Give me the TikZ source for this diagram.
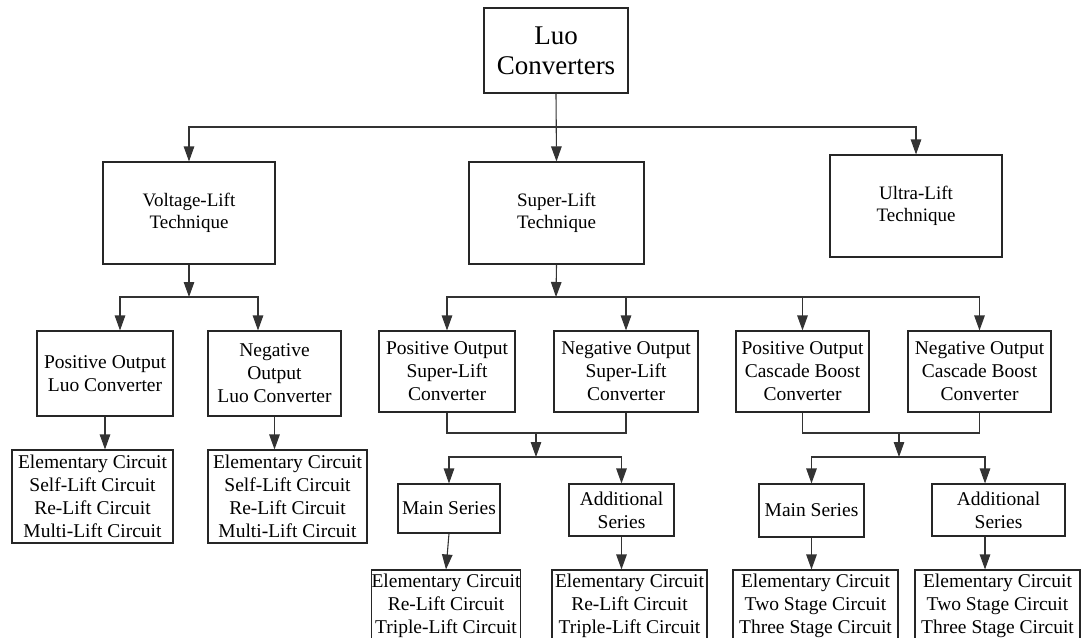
\documentclass[tikz,border=0pt]{standalone}
\usepackage{fontspec}
\setmainfont{Liberation Serif}
\usetikzlibrary{arrows.meta}
\begin{document}
\begin{tikzpicture}[x=1pt,y=-1pt,
  box/.style={draw=black!85,line width=1.1pt,inner sep=0pt,align=center,
    font=\fontsize{19.5}{23}\selectfont},
  conn/.style={draw=black!80,line width=1.1pt},
  arr/.style={conn,-{Triangle[length=15pt,width=10.5pt]}}]
\useasboundingbox (0,0) rectangle (1081,637);
% level 0
\node[box,minimum width=144,minimum height=85,font=\fontsize{27}{30}\selectfont] (top) at (556,50.5) {Luo\\Converters};
% level 1
\node[box,minimum width=172,minimum height=102,font=\fontsize{19}{22}\selectfont] (vl) at (189,213) {Voltage-Lift\\Technique};
\node[box,minimum width=175,minimum height=102,font=\fontsize{19}{22}\selectfont] (sl) at (556.5,213) {Super-Lift\\Technique};
\node[box,minimum width=172,minimum height=102,font=\fontsize{19}{22}\selectfont] (ul) at (916,206) {Ultra-Lift\\Technique};
% level 2
\node[box,minimum width=136,minimum height=85] (pol) at (105,373.5) {Positive Output\\Luo Converter};
\node[box,minimum width=133,minimum height=85] (nol) at (274.5,373.5) {Negative\\Output\\Luo Converter};
\node[box,minimum width=136,minimum height=81] (psl) at (447,371.5) {Positive Output\\Super-Lift\\Converter};
\node[box,minimum width=144,minimum height=81] (nsl) at (626,371.5) {Negative Output\\Super-Lift\\Converter};
\node[box,minimum width=133,minimum height=81] (pcb) at (802.5,371.5) {Positive Output\\Cascade Boost\\Converter};
\node[box,minimum width=143,minimum height=81] (ncb) at (979.5,371.5) {Negative Output\\Cascade Boost\\Converter};
% level 3
\node[box,minimum width=161,minimum height=93] (ec1) at (92.5,496.5) {Elementary Circuit\\Self-Lift Circuit\\Re-Lift Circuit\\Multi-Lift Circuit};
\node[box,minimum width=159,minimum height=93] (ec2) at (287.5,496.5) {Elementary Circuit\\Self-Lift Circuit\\Re-Lift Circuit\\Multi-Lift Circuit};
\node[box,minimum width=102,minimum height=49] (ms1) at (449,508.5) {Main Series};
\node[box,minimum width=105,minimum height=52] (as1) at (621.5,510) {Additional\\Series};
\node[box,minimum width=105,minimum height=53] (ms2) at (811.5,510.5) {Main Series};
\node[box,minimum width=133,minimum height=52] (as2) at (998.5,510) {Additional\\Series};
% level 4
\node[box,minimum width=148,minimum height=72] (ec3) at (446,606) {Elementary Circuit\\Re-Lift Circuit\\Triple-Lift Circuit};
\node[box,minimum width=155,minimum height=72] (ec4) at (629.5,606) {Elementary Circuit\\Re-Lift Circuit\\Triple-Lift Circuit};
\node[box,minimum width=165,minimum height=72] (ec5) at (815.5,606) {Elementary Circuit\\Two Stage Circuit\\Three Stage Circuit};
\node[box,minimum width=165,minimum height=72] (ec6) at (997.5,606) {Elementary Circuit\\Two Stage Circuit\\Three Stage Circuit};
% branch points
\coordinate (b1) at (556,127);
\coordinate (b2) at (189,297);
\coordinate (b3) at (556,297);
\coordinate (m1) at (536,433);
\coordinate (b4) at (536,457);
\coordinate (m2) at (899,433);
\coordinate (b5) at (899,457);
% connectors level 0 -> 1
\draw[arr] (top.south) -- (sl.north);
\draw[arr] (b1) -| (vl.north);
\draw[arr] (b1) -| (ul.north);
% voltage-lift
\draw[arr] (vl.south) -- (b2);
\draw[arr] (b2) -| ([xshift=15pt]pol.north);
\draw[arr] (b2) -| ([xshift=-16.5pt]nol.north);
\draw[arr] (pol.south) -- (pol.south |- ec1.north);
\draw[arr] (nol.south) -- (nol.south |- ec2.north);
% super-lift
\draw[arr] (sl.south) -- (b3);
\draw[arr] (b3) -| (psl.north);
\draw[arr] (b3) -| (nsl.north);
\draw[arr] (b3) -| (pcb.north);
\draw[arr] (b3) -| (ncb.north);
% super-lift merge
\draw[conn] (psl.south) |- (m1) -| (nsl.south);
\draw[arr] (m1) -- (b4);
\draw[arr] (b4) -| (ms1.north);
\draw[arr] (b4) -| (as1.north);
\draw[arr] (ms1.south) -- (ec3.north);
\draw[arr] (as1.south) -- (as1.south |- ec4.north);
% cascade merge
\draw[conn] (pcb.south) |- (m2) -| (ncb.south);
\draw[arr] (m2) -- (b5);
\draw[arr] (b5) -| (ms2.north);
\draw[arr] (b5) -| ([xshift=-13.5pt]as2.north);
\draw[arr] (ms2.south) -- (ms2.south |- ec5.north);
\draw[arr] ([xshift=-13.5pt]as2.south) -- ([xshift=-13.5pt]as2.south |- ec6.north);
\end{tikzpicture}
\end{document}
